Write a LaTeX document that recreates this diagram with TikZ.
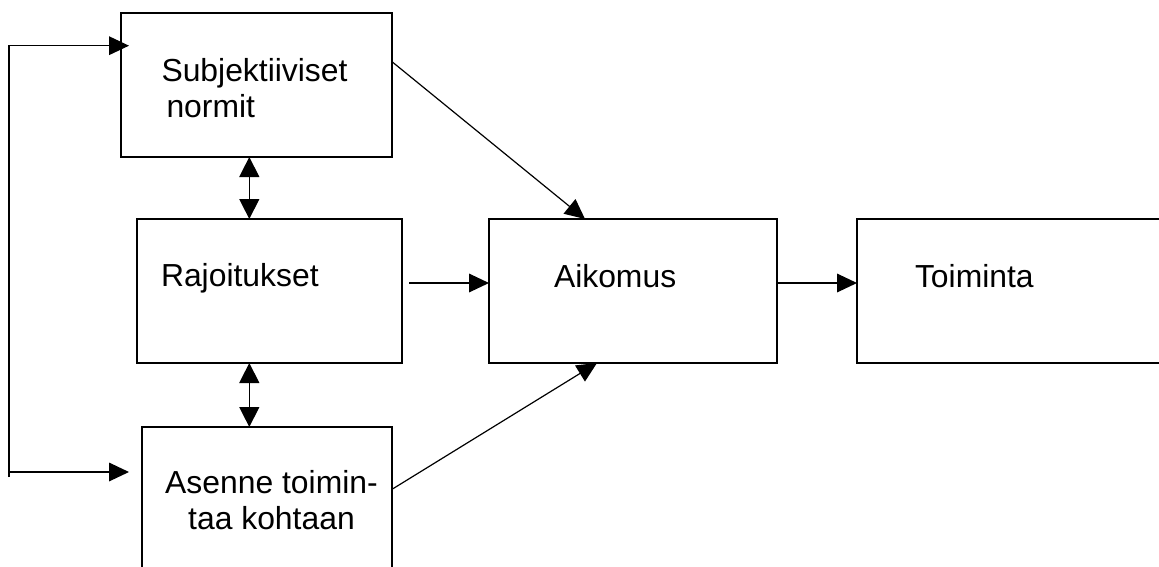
\documentclass[tikz,border=0pt]{standalone}
\usepackage{fontspec}
\setmainfont{Liberation Sans}
\usetikzlibrary{arrows.meta}

\begin{document}
\begin{tikzpicture}[
    x=0.75pt, y=-0.75pt,
    box/.style={draw, rectangle, line width=0.9pt, inner sep=0pt, outer sep=0pt},
    lbl/.style={inner sep=0pt, outer sep=0pt, anchor=base west,
                font=\fontsize{23.9pt}{26.8pt}\selectfont},
    arr/.style={line width=0.9pt, -{Triangle[length=15pt, width=14pt]}},
    dbl/.style={line width=0.9pt, {Triangle[length=15pt, width=15pt]}-{Triangle[length=15pt, width=15pt]}}
  ]
  \useasboundingbox (0,0) rectangle (1159,567);
  \clip (0,0) rectangle (1159,567);

  % boxes
  \node[box, minimum width={271*0.75pt}, minimum height={144*0.75pt}] (subj) at (256.5,85) {};
  \node[box, minimum width={265*0.75pt}, minimum height={144*0.75pt}] (raj)  at (269.5,291) {};
  \node[box, minimum width={288*0.75pt}, minimum height={144*0.75pt}] (aik)  at (633,291) {};
  \node[box, minimum width={323*0.75pt}, minimum height={144*0.75pt}] (toim) at (1018.5,291) {};
  \node[box, minimum width={250*0.75pt}, minimum height={173*0.75pt}] (asen) at (267,513.5) {};

  % labels (multi-line labels are placed by the baseline of their last line)
  \node[lbl, align=left] (subjtxt) at (161.5,117) {Subjektiiviset\\\hspace*{3.75pt}normit};
  \node[lbl] (rajtxt) at (161,286) {Rajoitukset};
  \node[lbl] (aiktxt) at (554,287) {Aikomus};
  \node[lbl] (toimtxt) at (915,287) {Toiminta};
  \node[lbl, anchor=base, align=center] (asentxt) at (271.5,529) {Asenne toimin-\\taa kohtaan};

  % feedback loop on the left
  \coordinate (fbbot) at (9,477);
  \coordinate (fbmid) at (9,472);
  \coordinate (subjin) at (129,45.7);
  \coordinate (asenin) at (129,472);
  \draw[arr] (fbbot) |- (subjin);
  \draw[arr] (fbmid) -- (asenin);

  % mutual influences
  \coordinate (vx) at (249.3,0);
  \draw[dbl] (subj.south -| vx) -- (raj.north -| vx);
  \draw[dbl] (raj.south -| vx) -- (asen.north -| vx);

  % into the intention
  \coordinate (rajout) at (409,283);
  \coordinate (midy) at (0,283);
  \coordinate (subjout) at (392,61.7);
  \coordinate (asenout) at (392,489.3);
  \coordinate (aiktop) at (585,0);
  \coordinate (aikbot) at (597,0);
  \draw[arr] (rajout) -- (aik.west |- rajout);
  \draw[arr] (subjout) -- (aik.north -| aiktop);
  \draw[arr] (asenout) -- (aik.south -| aikbot);

  % intention to action
  \draw[arr] (aik.east |- midy) -- (toim.west |- midy);
\end{tikzpicture}
\end{document}
